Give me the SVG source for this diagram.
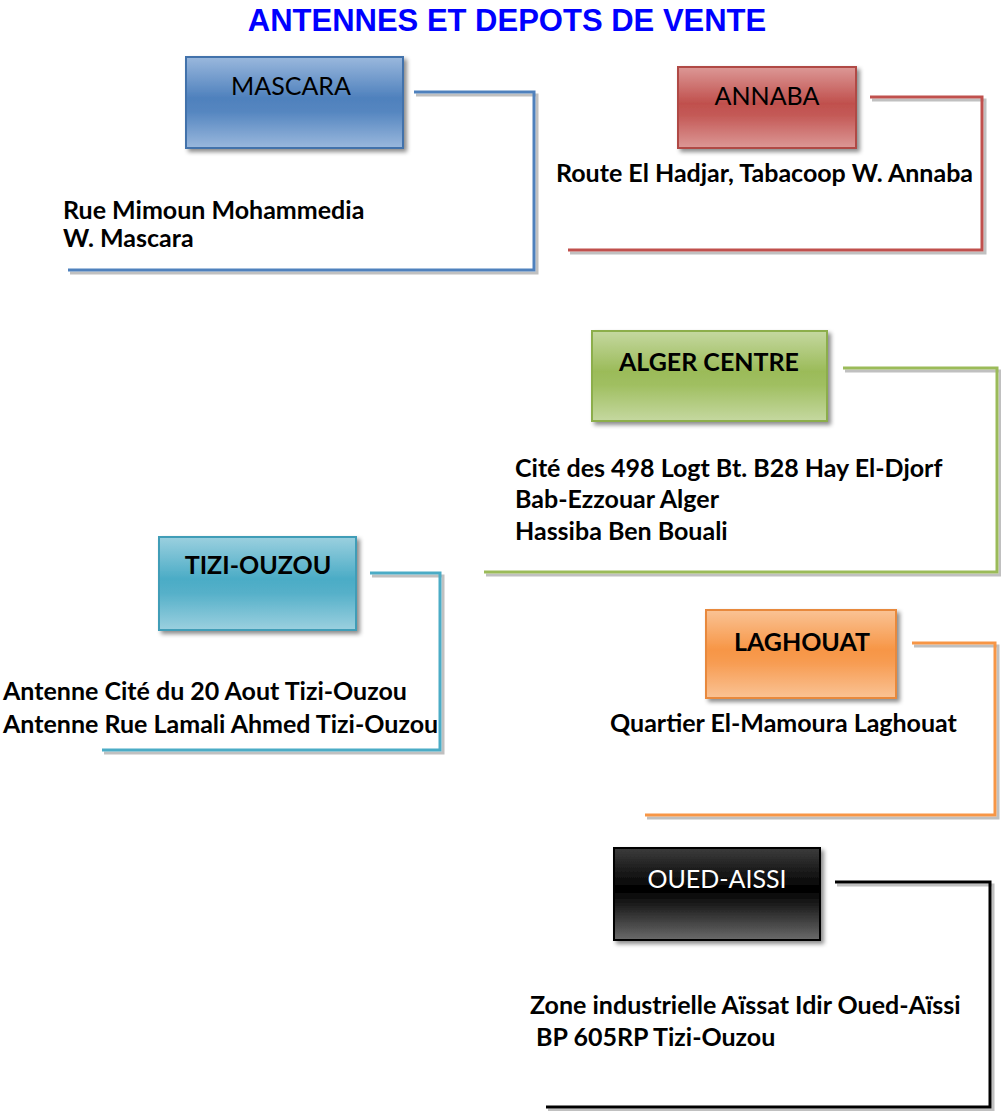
<svg xmlns="http://www.w3.org/2000/svg" width="1001" height="1111" viewBox="0 0 1001 1111">
<style>
.title{font-family:"Liberation Sans",Arial,sans-serif;font-weight:bold;font-size:31px;fill:#0000FF}
.lbl{font-family:Lato,"Liberation Sans",sans-serif;font-size:25px;text-anchor:middle;fill:#000}
.lblb{font-family:Lato,"Liberation Sans",sans-serif;font-size:25px;font-weight:bold;text-anchor:middle;fill:#000}
.addr{font-family:Lato,"Liberation Sans",sans-serif;font-size:25px;font-weight:bold;fill:#000}
.box{stroke-width:2}
.conn{fill:none;stroke-width:3;stroke-linejoin:miter}
.shadow{fill:none;stroke:#8c8c8c;stroke-width:3;opacity:0.55}
</style>
<defs>
<filter id="ds" x="-10%" y="-10%" width="130%" height="140%">
<feDropShadow dx="3" dy="3" stdDeviation="2" flood-color="#000" flood-opacity="0.45"/>
</filter>
<linearGradient id="gBlue" x1="0" y1="0" x2="0" y2="1">
<stop offset="0" stop-color="#9ab8dd"/><stop offset="0.45" stop-color="#4f81bd"/><stop offset="0.6" stop-color="#5586c0"/><stop offset="1" stop-color="#9ab8dd"/>
</linearGradient>
<linearGradient id="gRed" x1="0" y1="0" x2="0" y2="1">
<stop offset="0" stop-color="#dc9896"/><stop offset="0.45" stop-color="#c0504d"/><stop offset="0.6" stop-color="#c45a57"/><stop offset="1" stop-color="#dc9896"/>
</linearGradient>
<linearGradient id="gGreen" x1="0" y1="0" x2="0" y2="1">
<stop offset="0" stop-color="#c5d8a0"/><stop offset="0.45" stop-color="#9bbb59"/><stop offset="0.6" stop-color="#a0bf61"/><stop offset="1" stop-color="#c5d8a0"/>
</linearGradient>
<linearGradient id="gTeal" x1="0" y1="0" x2="0" y2="1">
<stop offset="0" stop-color="#9bd0df"/><stop offset="0.45" stop-color="#4bacc6"/><stop offset="0.6" stop-color="#55b0c9"/><stop offset="1" stop-color="#9bd0df"/>
</linearGradient>
<linearGradient id="gOrange" x1="0" y1="0" x2="0" y2="1">
<stop offset="0" stop-color="#fac395"/><stop offset="0.45" stop-color="#f79646"/><stop offset="0.6" stop-color="#f79c52"/><stop offset="1" stop-color="#fac395"/>
</linearGradient>
<linearGradient id="gBlack" x1="0" y1="0" x2="0" y2="1">
<stop offset="0" stop-color="#3c3c3c"/><stop offset="0.45" stop-color="#000"/><stop offset="0.6" stop-color="#1a1a1a"/><stop offset="1" stop-color="#6a6a6a"/>
</linearGradient>
</defs>
<rect width="1001" height="1111" fill="#fff"/>
<text class="title" x="507" y="31" text-anchor="middle">ANTENNES ET DEPOTS DE VENTE</text>

<g id="connectors">
<path class="shadow" d="M416 95 H537 V273 H70"/>
<path class="conn" stroke="#4f81bd" d="M414 92 H534 V270 H68"/>
<path class="shadow" d="M872 100 H985 V253 H570"/>
<path class="conn" stroke="#c0504d" d="M870 97 H982 V250 H568"/>
<path class="shadow" d="M845 371 H1000 V575 H486"/>
<path class="conn" stroke="#9bbb59" d="M843 368 H997 V572 H484"/>
<path class="shadow" d="M372 576 H443 V753 H104"/>
<path class="conn" stroke="#4bacc6" d="M370 573 H440 V750 H102"/>
<path class="shadow" d="M914 646 H998 V818 H647"/>
<path class="conn" stroke="#f79646" d="M912 643 H995 V815 H645"/>
<path class="shadow" d="M837 885 H993 V1110 H548"/>
<path class="conn" stroke="#000" d="M835 882 H990 V1107 H546"/>
</g>

<g id="mascara">
<rect class="box" x="186" y="57" width="217" height="91" fill="url(#gBlue)" stroke="#4272ab" filter="url(#ds)"/>
<text class="lbl" x="291" y="95">MASCARA</text>
<text class="addr" x="63" y="219">Rue Mimoun Mohammedia</text>
<text class="addr" x="63" y="247">W. Mascara</text>
</g>

<g id="annaba">
<rect class="box" x="678" y="67" width="178" height="81" fill="url(#gRed)" stroke="#b04845" filter="url(#ds)"/>
<text class="lbl" x="767" y="105">ANNABA</text>
<text class="addr" x="556" y="182">Route El Hadjar, Tabacoop W. Annaba</text>
</g>

<g id="alger-centre">
<rect class="box" x="592" y="331" width="235" height="90" fill="url(#gGreen)" stroke="#8cae4c" filter="url(#ds)"/>
<text class="lblb" x="709" y="371">ALGER CENTRE</text>
<text class="addr" x="515" y="477">Cité des 498 Logt Bt. B28 Hay El-Djorf</text>
<text class="addr" x="515" y="508">Bab-Ezzouar Alger</text>
<text class="addr" x="515" y="540">Hassiba Ben Bouali</text>
</g>

<g id="tizi-ouzou">
<rect class="box" x="159" y="537" width="197" height="93" fill="url(#gTeal)" stroke="#3f9db7" filter="url(#ds)"/>
<text class="lblb" x="258" y="574">TIZI-OUZOU</text>
<text class="addr" x="3" y="700">Antenne Cité du 20 Aout Tizi-Ouzou</text>
<text class="addr" x="3" y="733">Antenne Rue Lamali Ahmed Tizi-Ouzou</text>
</g>

<g id="laghouat">
<rect class="box" x="706" y="610" width="190" height="88" fill="url(#gOrange)" stroke="#e8893c" filter="url(#ds)"/>
<text class="lblb" x="802" y="651">LAGHOUAT</text>
<text class="addr" x="610" y="732">Quartier El-Mamoura Laghouat</text>
</g>

<g id="oued-aissi">
<rect class="box" x="614" y="848" width="206" height="92" fill="url(#gBlack)" stroke="#000" filter="url(#ds)"/>
<text class="lbl" x="717" y="888" style="fill:#fff">OUED-AISSI</text>
<text class="addr" x="530" y="1014">Zone industrielle Aïssat Idir Oued-Aïssi</text>
<text class="addr" x="530" y="1046" xml:space="preserve"> BP 605RP Tizi-Ouzou</text>
</g>
</svg>
